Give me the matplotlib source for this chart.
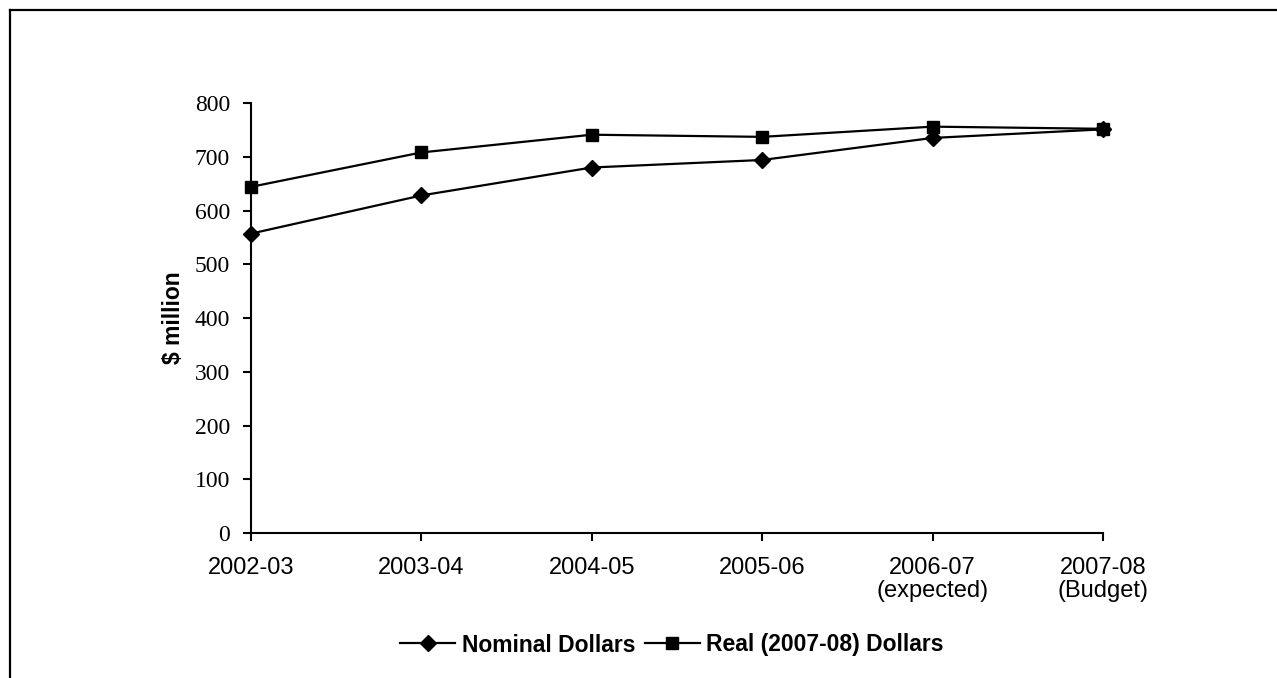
import matplotlib
matplotlib.use("Agg")
import matplotlib.pyplot as plt
from matplotlib.lines import Line2D

years = ["2002-03", "2003-04", "2004-05", "2005-06", "2006-07\n(expected)", "2007-08\n(Budget)"]
nominal = [557, 628, 680, 694, 735, 751]
real = [644, 708, 741, 737, 756, 752]
yticks = [0, 100, 200, 300, 400, 500, 600, 700, 800]

W, H = 1277, 678
fig = plt.figure(figsize=(W / 100, H / 100), dpi=100)
ax = fig.add_axes([251 / W, 1 - 533 / H, (1103 - 251) / W, (533 - 103) / H])

x = list(range(len(years)))
ax.plot(x, nominal, color="black", lw=1.6, marker="D", markersize=8.5,
        label="Nominal Dollars", clip_on=False)
ax.plot(x, real, color="black", lw=1.6, marker="s", markersize=9,
        label="Real (2007-08) Dollars", clip_on=False)

ax.set_xlim(0, len(years) - 1)
ax.set_ylim(0, 800)
ax.set_yticks(yticks)
ax.set_yticklabels([str(v) for v in yticks], family="Liberation Serif", fontsize=17)
ax.set_xticks(x)
ax.set_xticklabels(years, family="Liberation Sans", fontsize=17, linespacing=1.1)

for s in ("top", "right"):
    ax.spines[s].set_visible(False)
for s in ("left", "bottom"):
    ax.spines[s].set_linewidth(1.5)
ax.tick_params(axis="y", direction="out", length=6, width=1.5, pad=9)
ax.tick_params(axis="x", direction="out", length=6, width=1.5, pad=11)

ax.set_ylabel("$ million", family="Liberation Sans", fontweight="bold", fontsize=16.5, labelpad=7)

leg = fig.legend(loc="center", bbox_to_anchor=(672 / W, 1 - 645 / H), ncol=2,
                 frameon=False, prop={"family": "Liberation Sans", "weight": "bold", "size": 16.5},
                 handlelength=2.4, handletextpad=0.3, columnspacing=0.4)

# Frame lines along the top and left edges of the figure
fig.add_artist(Line2D([10 / W, 1.0], [1 - 10 / H, 1 - 10 / H], color="black", lw=1.6,
                      transform=fig.transFigure))
fig.add_artist(Line2D([10 / W, 10 / W], [0.0, 1 - 10 / H], color="black", lw=1.6,
                      transform=fig.transFigure))

fig.savefig("out.png", dpi=100, facecolor="white")
